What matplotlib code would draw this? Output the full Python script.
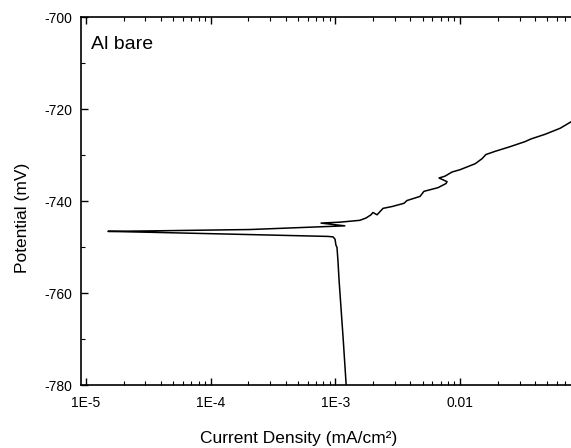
import numpy as np
import matplotlib
matplotlib.use('Agg')
import matplotlib.pyplot as plt
from matplotlib.ticker import FixedLocator, LogLocator, MultipleLocator, NullFormatter

plt.rcParams['font.family'] = ['Liberation Sans', 'DejaVu Sans']
plt.rcParams['axes.unicode_minus'] = False

# Polarization curve (cathodic branch from bottom, then anodic)
current_density = [
    1.22e-3, 1.156e-3, 1.07e-3, 1.05e-3, 1.03e-3, 1.01e-3, 9.93e-4, 9.57e-4,
    8.73e-4, 2.07e-4, 3.26e-5, 1.5e-5,
    3.26e-5, 2.07e-4, 1.19e-3, 7.67e-4, 1.09e-3, 1.57e-3, 1.76e-3, 1.93e-3,
    2.0e-3, 2.16e-3, 2.28e-3, 2.41e-3, 2.85e-3, 3.55e-3, 3.75e-3, 4.77e-3,
    5.13e-3, 6.65e-3, 7.71e-3, 7.86e-3, 6.78e-3, 7.57e-3, 8.61e-3, 9.98e-3,
    1.32e-2, 1.50e-2, 1.61e-2, 1.91e-2, 2.51e-2, 3.31e-2, 3.71e-2, 4.80e-2,
    6.33e-2, 7.74e-2, 9.0e-2,
]
potential = [
    -780.0, -770.2, -757.2, -753.3, -750.1, -749.6, -748.3, -747.8,
    -747.7, -747.3, -746.8, -746.6,
    -746.5, -746.2, -745.4, -744.8, -744.6, -744.2, -743.7, -743.0,
    -742.5, -743.0, -742.3, -741.6, -741.2, -740.5, -739.9, -739.0,
    -737.9, -737.1, -736.2, -735.8, -735.0, -734.6, -733.7, -733.2,
    -731.9, -730.8, -729.9, -729.2, -728.2, -727.1, -726.5, -725.5,
    -724.2, -722.8, -721.9,
]

x_ticks = [1e-5, 1e-4, 1e-3, 1e-2]
x_tick_labels = ['1E-5', '1E-4', '1E-3', '0.01']
y_ticks = [-780, -760, -740, -720, -700]

fig = plt.figure(figsize=(5.71, 4.48), dpi=100)
ax = fig.add_axes([81 / 571, 1 - 385 / 448, 1 - 81 / 571, (385 - 17) / 448])

ax.plot(current_density, potential, color='black', linewidth=1.1)

ax.set_xscale('log')
ax.set_xlim(10 ** (-5 - 5 / 124.7), 10 ** (-5 + 485 / 124.7))
ax.set_ylim(-780, -700)

ax.xaxis.set_major_locator(FixedLocator(x_ticks))
ax.set_xticklabels(x_tick_labels)
ax.xaxis.set_minor_locator(LogLocator(base=10, subs=np.arange(2, 10)))
ax.xaxis.set_minor_formatter(NullFormatter())
ax.yaxis.set_major_locator(FixedLocator(y_ticks))
ax.yaxis.set_minor_locator(MultipleLocator(10))

ax.tick_params(which='both', direction='in', top=True, right=False, labelsize=10)
ax.tick_params(axis='x', which='major', pad=8)
ax.tick_params(axis='y', which='major', pad=6)
ax.tick_params(which='major', length=5, width=1.0)
ax.tick_params(which='minor', length=3, width=0.8)
ax.spines['right'].set_visible(False)
for s in ['left', 'bottom', 'top']:
    ax.spines[s].set_linewidth(1.2)

ax.set_xlabel('Current Density (mA/cm²)', fontsize=12.5)
ax.set_ylabel('Potential (mV)', fontsize=12.5)
ax.xaxis.set_label_coords(0.445, -0.125)
ax.yaxis.set_label_coords(-0.104, 0.454)
ax.text(0.02, 0.925, 'Al bare', transform=ax.transAxes, fontsize=14, va='center', ha='left')

fig.savefig('out.png', dpi=100)
